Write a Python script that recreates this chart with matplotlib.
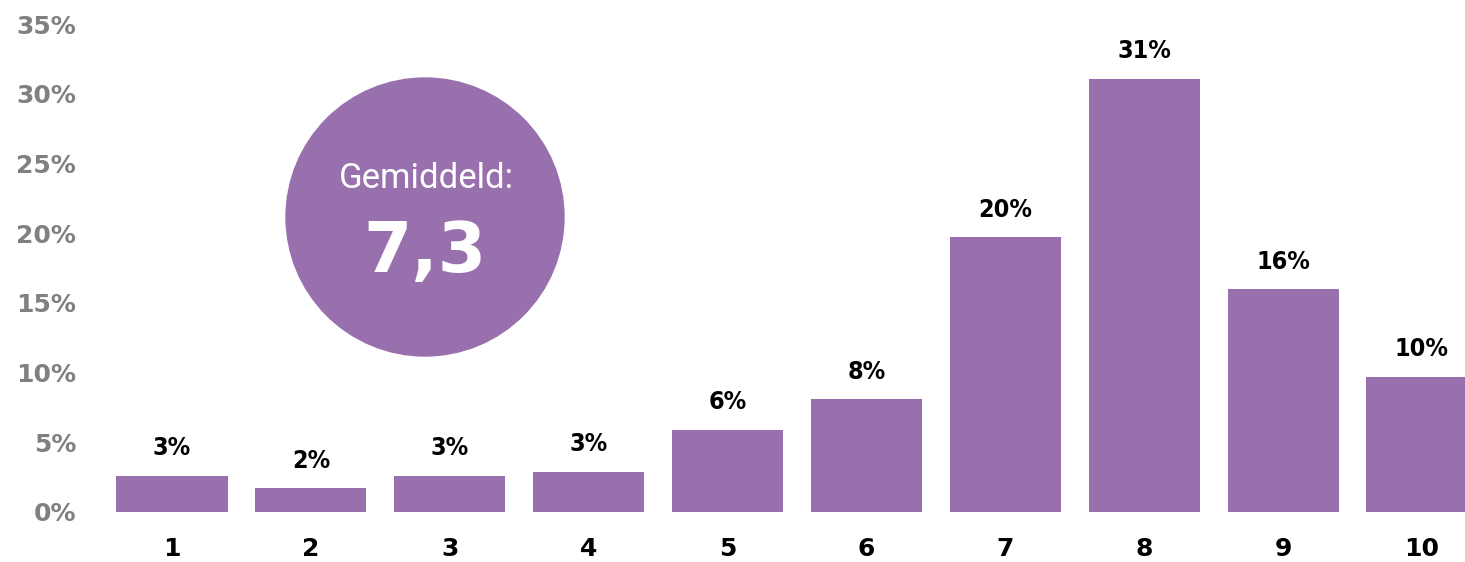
import matplotlib.pyplot as plt
from matplotlib.patches import Circle

# Data
scores = ['1', '2', '3', '4', '5', '6', '7', '8', '9', '10']
shares = [2.6, 1.7, 2.6, 2.9, 5.9, 8.1, 19.7, 31.1, 16.0, 9.7]
share_labels = ['3%', '2%', '3%', '3%', '6%', '8%', '20%', '31%', '16%', '10%']
y_ticks = [0, 5, 10, 15, 20, 25, 30, 35]
average_text = '7,3'

purple = '#9970ae'

fig = plt.figure(figsize=(14.65, 5.62), dpi=100)
ax = fig.add_axes([0.07, 0.089, 0.93, 0.868])

x = range(1, len(scores) + 1)
ax.bar(x, shares, width=0.8, color=purple)

for xi, v, lab in zip(x, shares, share_labels):
    ax.text(xi, v + 1.1, lab, ha='center', va='bottom', fontsize=18,
            fontweight='bold', family='DejaVu Sans', fontstretch='condensed',
            color='black')

ax.set_xlim(0.5, 10.31)
ax.set_ylim(0, 35)
ax.set_xticks(list(x))
ax.set_xticklabels(scores, fontsize=18, fontweight='bold', color='black')
ax.set_yticks(y_ticks)
ax.set_yticklabels([f'{t}%' for t in y_ticks], fontsize=18,
                   fontweight='bold', color='#808080')
ax.tick_params(length=0, axis='x', pad=18)
ax.tick_params(length=0, axis='y', pad=19)
for s in ax.spines.values():
    s.set_visible(False)

# Average bubble
circ = Circle((4.25, 3.45), 1.39, transform=fig.dpi_scale_trans,
              color=purple, zorder=1)
fig.patches.append(circ)
fig.text(4.26 / 14.65, 3.83 / 5.62, 'Gemiddeld:', ha='center', va='center',
         fontsize=25, color='white', fontweight='normal', family=['Roboto', 'DejaVu Sans'],
         zorder=10)
fig.text(4.25 / 14.65, 3.10 / 5.62, average_text, ha='center', va='center',
         fontsize=50, color='white', fontweight='bold', zorder=10)

fig.savefig('out.png', dpi=100)
